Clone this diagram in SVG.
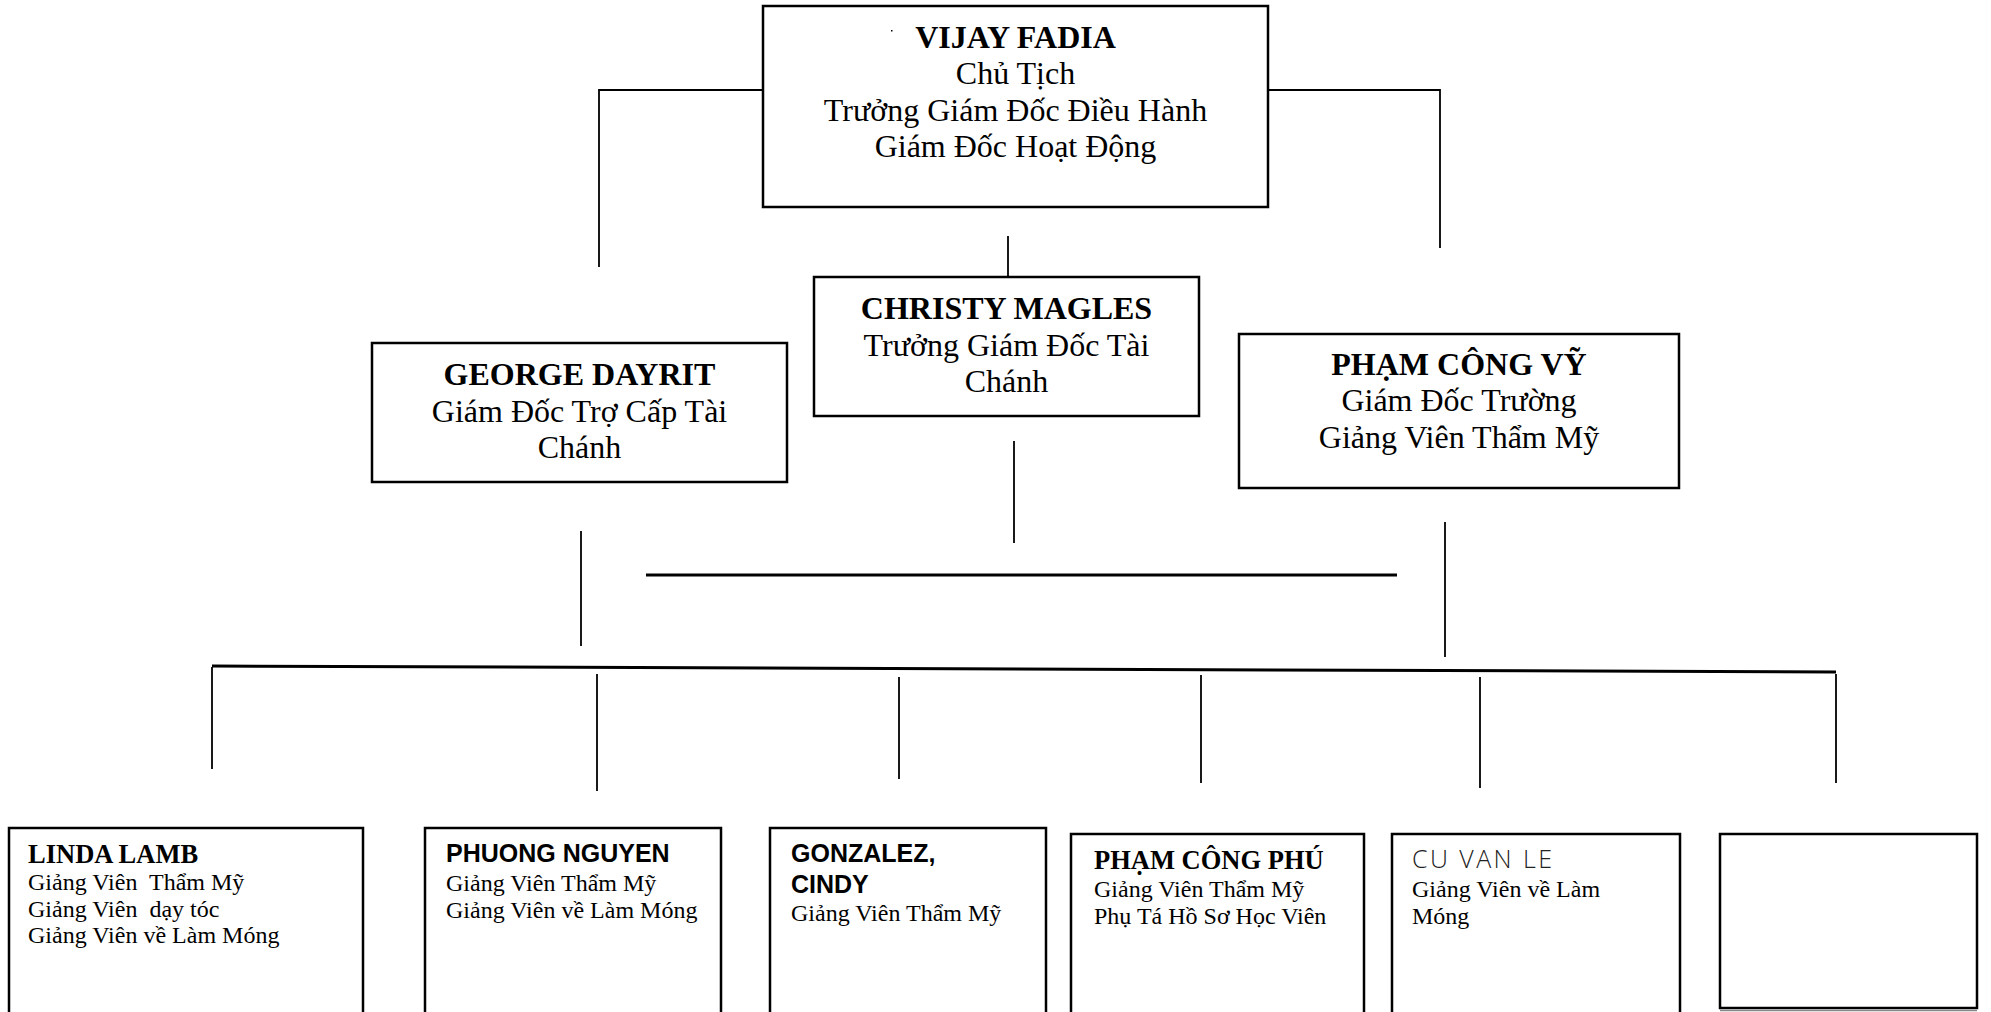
<svg xmlns="http://www.w3.org/2000/svg" width="1991" height="1012" viewBox="0 0 1991 1012">
<style>
.box{fill:#fff;stroke:#000;stroke-width:2.5}
.ln{fill:none;stroke:#000;stroke-width:1.8}
.thk{fill:none;stroke:#000;stroke-width:3}
.t{font-family:"Liberation Serif","Times New Roman",serif;font-size:32px;fill:#000;text-anchor:middle}
.b{font-weight:bold}
.s{font-family:"Liberation Serif","Times New Roman",serif;font-size:24px;fill:#000}
.sb{font-family:"Liberation Serif","Times New Roman",serif;font-size:26.5px;font-weight:bold;fill:#000}
.ab{font-family:"Liberation Sans",Arial,sans-serif;font-size:25px;font-weight:bold;fill:#000}
.lt{font-family:"Open Sans","DejaVu Sans",sans-serif;font-size:25px;font-weight:300;fill:#222}
</style>
<rect width="1991" height="1012" fill="#fff"/>
<g id="connectors">
<polyline class="ln" points="763,90 599,90 599,267"/>
<polyline class="ln" points="1268,90 1440,90 1440,248"/>
<line class="ln" x1="1008" y1="236" x2="1008" y2="277"/>
<line class="ln" x1="1014" y1="441" x2="1014" y2="543"/>
<line class="ln" x1="581" y1="531" x2="581" y2="646"/>
<line class="ln" x1="1445" y1="522" x2="1445" y2="657"/>
<line class="thk" x1="646" y1="575" x2="1397" y2="575"/>
<line class="thk" x1="212" y1="666" x2="1836" y2="672"/>
<line class="ln" x1="212" y1="667" x2="212" y2="769"/>
<line class="ln" x1="597" y1="674" x2="597" y2="791"/>
<line class="ln" x1="899" y1="677" x2="899" y2="779"/>
<line class="ln" x1="1201" y1="675" x2="1201" y2="783"/>
<line class="ln" x1="1480" y1="677" x2="1480" y2="788"/>
<line class="ln" x1="1836" y1="674" x2="1836" y2="783"/>
</g>
<g id="vijay-fadia">
<rect class="box" x="763" y="6" width="505" height="201"/>
<rect x="891" y="30" width="1.5" height="1.5" fill="#000"/>
<text class="t b" x="1015.5" y="47.5">VIJAY FADIA</text>
<text class="t" x="1015.5" y="84">Chủ Tịch</text>
<text class="t" x="1015.5" y="120.5">Trưởng Giám Đốc Điều Hành</text>
<text class="t" x="1015.5" y="157">Giám Đốc Hoạt Động</text>
</g>
<g id="christy-magles">
<rect class="box" x="814" y="277" width="385" height="139"/>
<text class="t b" x="1006.5" y="319">CHRISTY MAGLES</text>
<text class="t" x="1006.5" y="355.5">Trưởng Giám Đốc Tài</text>
<text class="t" x="1006.5" y="392">Chánh</text>
</g>
<g id="george-dayrit">
<rect class="box" x="372" y="343" width="415" height="139"/>
<text class="t b" x="579.5" y="385">GEORGE DAYRIT</text>
<text class="t" x="579.5" y="421.5">Giám Đốc Trợ Cấp Tài</text>
<text class="t" x="579.5" y="458">Chánh</text>
</g>
<g id="pham-cong-vy">
<rect class="box" x="1239" y="334" width="440" height="154"/>
<text class="t b" x="1459" y="374.5">PHẠM CÔNG VỸ</text>
<text class="t" x="1459" y="411">Giám Đốc Trường</text>
<text class="t" x="1459" y="447.5">Giảng Viên Thẩm Mỹ</text>
</g>
<g id="linda-lamb">
<rect class="box" x="9" y="828" width="354" height="200"/>
<text class="sb" x="28" y="863">LINDA LAMB</text>
<text class="s" x="28" y="890" xml:space="preserve">Giảng Viên  Thẩm Mỹ</text>
<text class="s" x="28" y="917" xml:space="preserve">Giảng Viên  dạy tóc</text>
<text class="s" x="28" y="943">Giảng Viên về Làm Móng</text>
</g>
<g id="phuong-nguyen">
<rect class="box" x="425" y="828" width="296" height="200"/>
<text class="ab" x="446" y="862">PHUONG NGUYEN</text>
<text class="s" x="446" y="891">Giảng Viên Thẩm Mỹ</text>
<text class="s" x="446" y="918">Giảng Viên về Làm Móng</text>
</g>
<g id="gonzalez-cindy">
<rect class="box" x="770" y="828" width="276" height="200"/>
<text class="ab" x="791" y="862">GONZALEZ,</text>
<text class="ab" x="791" y="893">CINDY</text>
<text class="s" x="791" y="921">Giảng Viên Thẩm Mỹ</text>
</g>
<g id="pham-cong-phu">
<rect class="box" x="1071" y="834" width="293" height="200"/>
<text class="sb" x="1094" y="869">PHẠM CÔNG PHÚ</text>
<text class="s" x="1094" y="897">Giảng Viên Thẩm Mỹ</text>
<text class="s" x="1094" y="924">Phụ Tá Hồ Sơ Học Viên</text>
</g>
<g id="cu-van-le">
<rect class="box" x="1392" y="834" width="288" height="200"/>
<text class="lt" x="1412" y="868" textLength="140" lengthAdjust="spacing">CU VAN LE</text>
<text class="s" x="1412" y="897">Giảng Viên về Làm</text>
<text class="s" x="1412" y="924">Móng</text>
</g>
<g id="empty-box">
<rect class="box" x="1720" y="834" width="257" height="174"/>
<line x1="1720" y1="1010.5" x2="1977" y2="1010.5" stroke="#888" stroke-width="1.5"/>
</g>
</svg>
